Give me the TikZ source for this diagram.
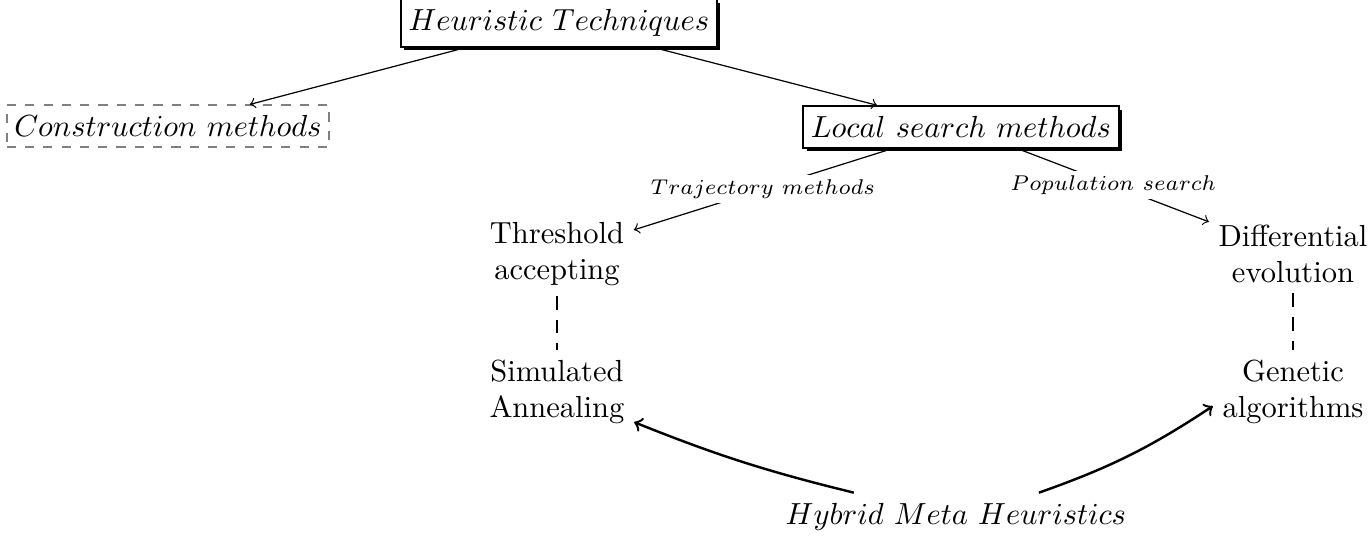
\documentclass[tikz,border=0pt]{standalone}
\usepackage{amsmath,amssymb}
\usepackage{tikz}
\usetikzlibrary{arrows,positioning,shadows}
\tikzset{
 >=to,
 heur/.style={draw,line width=0.7pt,inner xsep=2.5pt,inner ysep=3.3pt,fill=white,
   font=\fontsize{10.4}{12}\selectfont,
   drop shadow={shadow xshift=1.1pt,shadow yshift=-1.1pt,opacity=1,fill=black}},
 constr/.style={draw=gray,dashed,line width=0.6pt,inner xsep=2.5pt,inner ysep=3.3pt,
   font=\fontsize{10.4}{12}\selectfont},
 meth/.style={align=center,inner sep=3pt},
 lbl/.style={fill=white,font=\scriptsize,inner sep=1.5pt}
}

\begin{document}
\begin{tikzpicture}[x=1.152cm,y=1.152cm]
\useasboundingbox (0,0) rectangle (13.68,5.36);
\path (5.59,5.13) node[name=ht,heur] {$Heuristic\ Techniques$};
\path (1.68,4.10) node[name=cm,constr] {$Construction\ methods$};
\path (9.61,4.09) node[name=ls,heur] {$Local\ search\ methods$};

\path (5.57,2.82) node[name=ta,meth] {Threshold\\accepting};
\path (12.93,2.82) node[name=de,meth] {Differential\\evolution};
\path (5.57,1.44) node[name=sa,meth] {Simulated\\Annealing};
\path (12.93,1.44) node[name=ga,meth] {Genetic\\algorithms};
\path (9.56,0.19) node[name=hmh] {$Hybrid\ Meta\ Heuristics$};

\path[->] (ht) edge (cm);
\path[->] (ht) edge (ls);

\path[->] (ls) edge node[lbl]{$Trajectory\ methods$} (ta);
\path[->] (ls) edge node[lbl]{$Population\ search$} (de);

\path[dash pattern=on 4.5pt off 3.3pt] (ta) edge (sa);
\path[dash pattern=on 4.5pt off 3.3pt] (de) edge (ga);

\path[->,thick] (hmh) edge[bend left=4] (sa);
\path[->,thick] (hmh) edge[bend right=7] (ga.190);

\end{tikzpicture}
\end{document}
